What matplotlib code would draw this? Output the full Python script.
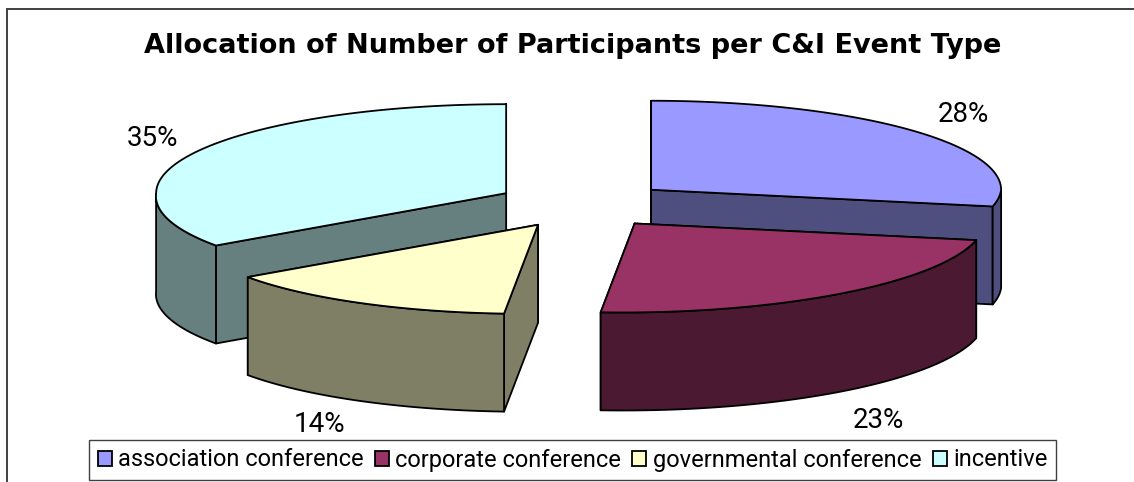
import numpy as np
import matplotlib
matplotlib.use("Agg")
import matplotlib.pyplot as plt
from matplotlib.patches import Polygon, Patch

title = "Allocation of Number of Participants per C&I Event Type"
categories = ["association conference", "corporate conference", "governmental conference", "incentive"]
values = [28, 23, 14, 35]
top_colors = ["#9999FF", "#993366", "#FFFFCC", "#CCFFFF"]
side_colors = ["#4F4F7F", "#4C1933", "#7F7F66", "#667F7F"]
explode_x = [0.26, 0.25, 0.255, 0.24]
explode_y = [0.26, 0.27, 0.26, 0.28]
label_pos = [(963, 114), (878, 421), (320, 424), (153, 139)]
draw_order = [3, 0, 2, 1]

W, H = 1134, 482
cx, cy, rx, ry, depth, front_skew = 581, 204.5, 350, 89, 98, 12

fig = plt.figure(figsize=(W / 100, H / 100), dpi=100, facecolor="white")
ax = fig.add_axes([0, 0, 1, 1])
ax.set_xlim(0, W)
ax.set_ylim(H, 0)
ax.axis("off")

# chart frame: left and top edges only fall inside the crop
ax.plot([7, 7, W], [H, 9, 9], color="#404040", lw=1.4, solid_joinstyle="miter")


def rim(theta):
    """Project clockwise-from-top angles (deg) on to the tilted ellipse."""
    t = np.radians(theta)
    yd = -np.cos(t)
    return rx * np.sin(t) - front_skew * np.clip(yd, 0, None), ry * yd


edges = np.concatenate([[0], np.cumsum(values)]) / sum(values) * 360.0
style = dict(ec="black", lw=1.3, joinstyle="round")

for i in draw_order:
    a0, a1 = edges[i], edges[i + 1]
    mid = (a0 + a1) / 2
    ox = cx + explode_x[i] * rx * np.sin(np.radians(mid))
    oy = cy - explode_y[i] * ry * np.cos(np.radians(mid))
    th = np.linspace(a0, a1, 160)
    dx, dy = rim(th)
    xs, ys = ox + dx, oy + dy
    # cut faces, the one further back first
    for k in sorted((0, -1), key=lambda q: ys[q]):
        face = [(ox, oy), (xs[k], ys[k]), (xs[k], ys[k] + depth), (ox, oy + depth)]
        ax.add_patch(Polygon(face, fc=side_colors[i], **style))
    # outer wall: the part of the rim on the viewer's side
    front = (th >= 90) & (th <= 270)
    if front.any():
        fx, fy = xs[front], ys[front]
        wall = np.vstack([np.c_[fx, fy], np.c_[fx[::-1], fy[::-1] + depth]])
        ax.add_patch(Polygon(wall, fc=side_colors[i], **style))
    # top
    top = np.vstack([[ox, oy], np.c_[xs, ys]])
    ax.add_patch(Polygon(top, fc=top_colors[i], **style))

for v, (lx, ly) in zip(values, label_pos):
    ax.text(lx, ly, f"{v}%", ha="center", va="center", fontsize=20, family="Roboto", color="black")

ax.text(573, 46, title, ha="center", va="center", fontsize=19.5, fontweight="bold", family="DejaVu Sans", color="black")

handles = [Patch(fc=c, ec="black", lw=1.3) for c in top_colors]
leg = ax.legend(handles, categories, ncols=4, loc="lower left",
                bbox_to_anchor=(89 / W, 1 - 480 / H, 967 / W, 43 / H), mode="expand",
                prop={"family": "Roboto", "size": 17}, frameon=True, fancybox=False,
                edgecolor="#404040", framealpha=1, borderaxespad=0, borderpad=0.36,
                handlelength=0.6, handleheight=0.6, handletextpad=0.27, columnspacing=0.4)
leg.get_frame().set_linewidth(1.0)

fig.savefig("out.png", dpi=100, facecolor="white")
